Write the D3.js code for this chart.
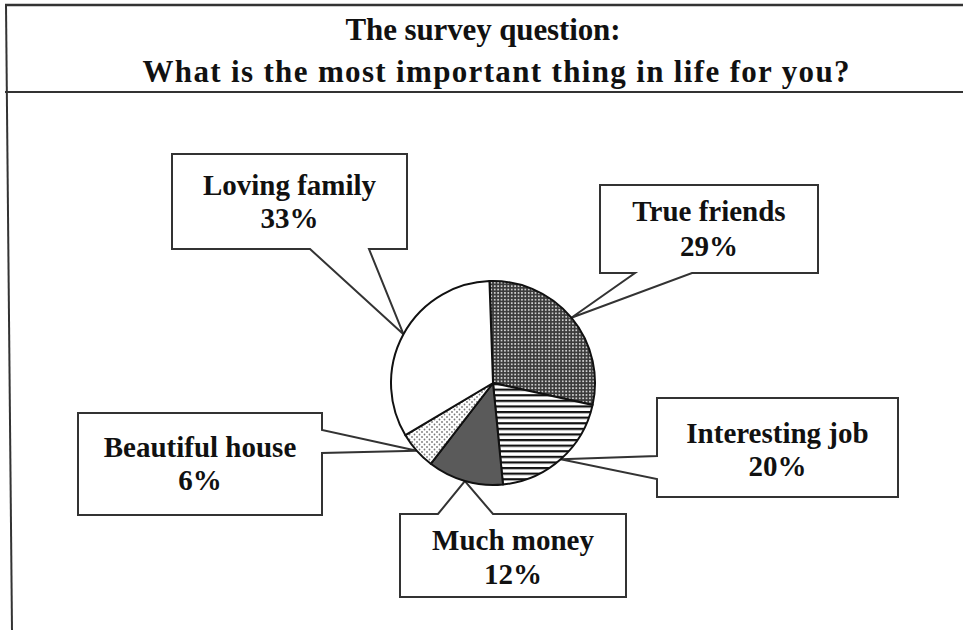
<!DOCTYPE html>
<html>
<head>
<meta charset="utf-8">
<script src="https://cdn.jsdelivr.net/npm/d3@7"></script>
<style>
  html, body { margin: 0; padding: 0; background: #fff; }
  svg { display: block; }
  text { font-family: "Liberation Serif", "Times New Roman", serif; font-weight: bold; fill: #111; }
</style>
</head>
<body>
<svg id="chart" width="963" height="630"></svg>
<script>
// ---- data ----
const titleLines = ["The survey question:", "What is the most important thing in life for you?"];
const categories = ["True friends", "Interesting job", "Much money", "Beautiful house", "Loving family"];
const values = [29, 20, 12, 6, 33];

// ---- styles & layout (not data) ----
const svg = d3.select("#chart");
const W = 963, H = 630;
const cx = 493, cy = 383, R = 102;

const defs = svg.append("defs");
// dotted dark pattern (True friends)
const p1 = defs.append("pattern").attr("id", "pDots").attr("patternUnits", "userSpaceOnUse")
  .attr("width", 3.4).attr("height", 3.4);
p1.append("rect").attr("width", 3.4).attr("height", 3.4).attr("fill", "#3a3a3a");
p1.append("rect").attr("x", 0.9).attr("y", 0.9).attr("width", 1.7).attr("height", 1.7).attr("fill", "#d4d4d4");
// horizontal stripes (Interesting job)
const p2 = defs.append("pattern").attr("id", "pStripes").attr("patternUnits", "userSpaceOnUse")
  .attr("width", 10).attr("height", 5.6);
p2.append("rect").attr("width", 10).attr("height", 5.6).attr("fill", "#fff");
p2.append("rect").attr("y", 0).attr("width", 10).attr("height", 2.2).attr("fill", "#111");
// sparse dots (Beautiful house)
const p3 = defs.append("pattern").attr("id", "pSparse").attr("patternUnits", "userSpaceOnUse")
  .attr("width", 5).attr("height", 5);
p3.append("rect").attr("width", 5).attr("height", 5).attr("fill", "#fff");
p3.append("circle").attr("cx", 1.5).attr("cy", 1.5).attr("r", 0.9).attr("fill", "#777");
p3.append("circle").attr("cx", 4).attr("cy", 4).attr("r", 0.9).attr("fill", "#777");

const fills = {
  "True friends": "url(#pDots)",
  "Interesting job": "url(#pStripes)",
  "Much money": "#5a5a5a",
  "Beautiful house": "url(#pSparse)",
  "Loving family": "#ffffff"
};

// callout boxes: [x1, y1, x2, y2], pointer side and base positions along that side, text baselines
const boxes = {
  "Loving family":   { r: [172, 154, 407, 249], side: "bottom", a: 310, b: 369, y: [195, 228] },
  "True friends":    { r: [600, 185, 818, 273], side: "bottom", a: 635, b: 692, y: [221, 256] },
  "Beautiful house": { r: [78, 413, 322, 515],  side: "right",  a: 430, b: 453, y: [457, 490] },
  "Interesting job": { r: [657, 398, 898, 497], side: "left",   a: 456, b: 479, y: [443, 476] },
  "Much money":      { r: [400, 514, 626, 597], side: "top",    a: 438, b: 493, y: [550, 584] }
};

// ---- frame ----
svg.append("line").attr("x1", 5).attr("y1", 5).attr("x2", W).attr("y2", 5)
  .attr("stroke", "#333").attr("stroke-width", 2.5);
svg.append("line").attr("x1", 5).attr("y1", 92).attr("x2", W).attr("y2", 92)
  .attr("stroke", "#333").attr("stroke-width", 2);
svg.append("line").attr("x1", 6).attr("y1", 5).attr("x2", 12).attr("y2", H)
  .attr("stroke", "#333").attr("stroke-width", 2);

// ---- title ----
const titleX = [483, 496], titleY = [40, 82], titleLen = [275, 707];
svg.append("g").selectAll("text").data(titleLines).join("text")
  .attr("x", (d, i) => titleX[i])
  .attr("y", (d, i) => titleY[i])
  .attr("text-anchor", "middle")
  .attr("font-size", 31)
  .attr("textLength", (d, i) => titleLen[i])
  .attr("lengthAdjust", "spacing")
  .text(d => d);

// ---- pie ----
const data = categories.map((c, i) => ({ name: c, value: values[i] }));
const deg = Math.PI / 180;
const pie = d3.pie().value(d => d.value).sort(null)
  .startAngle(-2 * deg).endAngle(358 * deg);
const arcs = pie(data);
const arc = d3.arc().innerRadius(0).outerRadius(R);

// tip of each callout = outer edge point at the slice's mid angle
function tipOf(a) {
  const m = (a.startAngle + a.endAngle) / 2;
  return [cx + R * Math.sin(m), cy - R * Math.cos(m)];
}

function calloutPath(b, tip) {
  const [x1, y1, x2, y2] = b.r;
  const pts = [[x1, y1]];
  if (b.side === "top") pts.push([b.a, y1], tip, [b.b, y1]);
  pts.push([x2, y1]);
  if (b.side === "right") pts.push([x2, b.a], tip, [x2, b.b]);
  pts.push([x2, y2]);
  if (b.side === "bottom") pts.push([b.b, y2], tip, [b.a, y2]);
  pts.push([x1, y2]);
  if (b.side === "left") pts.push([x1, b.b], tip, [x1, b.a]);
  return "M" + pts.map(p => p.join(",")).join("L") + "Z";
}

const callouts = svg.append("g");
arcs.forEach(a => {
  const b = boxes[a.data.name];
  const tip = tipOf(a);
  callouts.append("path")
    .attr("d", calloutPath(b, tip))
    .attr("fill", "#fff")
    .attr("stroke", "#333")
    .attr("stroke-width", 2)
    .attr("stroke-linejoin", "miter");
  const tx = (b.r[0] + b.r[2]) / 2;
  callouts.append("text").attr("x", tx).attr("y", b.y[0])
    .attr("text-anchor", "middle").attr("font-size", 29).text(a.data.name);
  callouts.append("text").attr("x", tx).attr("y", b.y[1])
    .attr("text-anchor", "middle").attr("font-size", 29).text(a.data.value + "%");
});

const pieG = svg.append("g").attr("transform", `translate(${cx},${cy})`);
pieG.selectAll("path").data(arcs).join("path")
  .attr("d", arc)
  .attr("fill", d => fills[d.data.name])
  .attr("stroke", "#111")
  .attr("stroke-width", 2)
  .attr("stroke-linejoin", "round");
</script>
</body>
</html>
